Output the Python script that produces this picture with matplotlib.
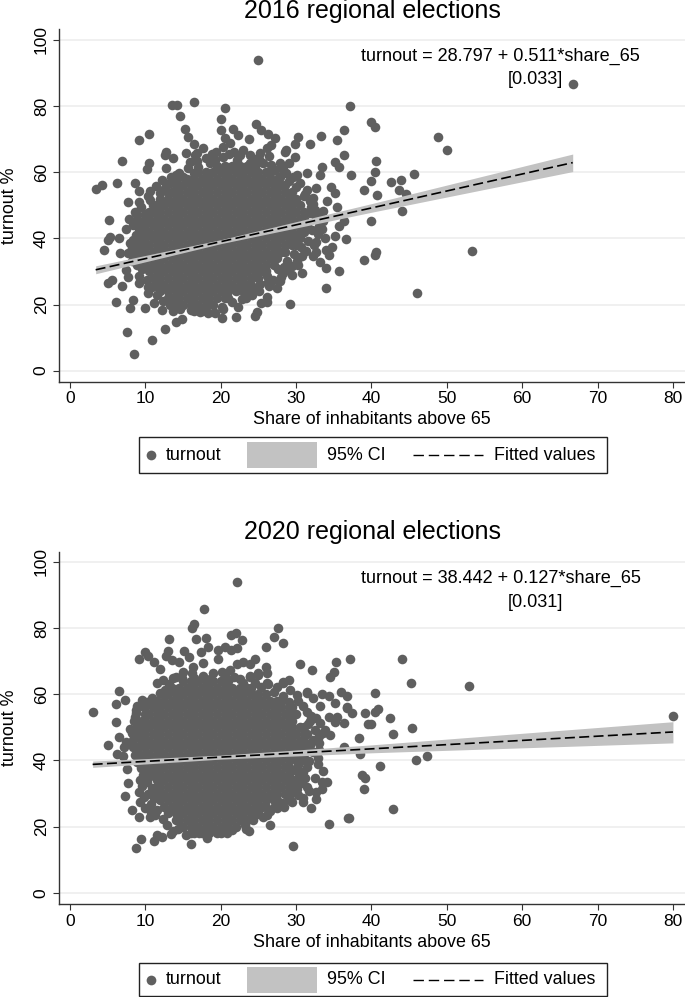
import matplotlib
matplotlib.use("Agg")
import matplotlib.pyplot as plt
from matplotlib.lines import Line2D
from matplotlib.patches import Rectangle

plt.rcParams['font.family'] = ['Liberation Sans', 'DejaVu Sans']

# ---- 2016: points (edge of the cloud and outliers)
edge_2016 = [
(25.0,93.8),(13.5,80.3),(14.2,80.3),(16.4,81.1),(20.6,79.3),(20.0,76.2),(14.6,77.1),(15.2,73.2),(15.6,70.7),
(20.0,72.8),(21.6,73.0),(22.3,71.3),(24.7,74.6),(25.4,72.8),(26.3,71.6),(27.2,70.3),(23.8,70.0),(26.7,68.2),
(20.5,70.3),(21.2,68.8),(10.5,71.5),(9.1,69.8),(6.9,63.4),(10.5,62.9),(10.2,60.9),(12.7,66.2),(12.6,65.2),
(13.7,64.2),(12.8,61.2),(14.1,59.2),(15.4,65.7),(16.4,68.5),(17.7,67.3),(16.6,65.2),(19.4,66.2),(3.4,54.9),
(4.3,56.1),(6.2,56.6),(8.6,56.8),(9.2,54.3),(7.7,50.9),(9.1,51.1),(10.6,51.6),(12.8,56.5),(8.6,48.1),(5.2,45.6),
(7.8,45.9),(7.4,42.7),(8.4,44.0),(5.3,40.5),(5.1,39.5),(6.5,40.0),(8.0,38.5),(4.5,36.5),(6.6,35.7),(7.7,35.5),
(7.4,30.4),(7.7,28.2),(5.6,27.4),(5.0,26.4),(6.9,25.7),(6.1,20.7),(8.0,18.9),(8.4,21.4),(9.9,18.9),(7.6,11.8),
(10.9,9.3),(8.5,4.9),(12.6,12.6),(14.0,14.6),(14.8,15.6),(20.2,16.0),(22.0,16.1),(24.6,16.5),(24.8,17.8),
(18.3,17.3),(19.2,17.3),(20.1,19.4),(12.2,18.3),(29.2,20.2),(25.3,20.6),(26.2,20.9),(26.1,22.4),(24.1,22.9),
(27.4,25.1),(33.9,25.1),(26.3,26.9),(28.0,28.2),(29.4,28.9),(30.8,29.4),(35.7,30.1),(34.0,30.9),(33.2,33.0),
(34.4,35.0),(34.7,37.3),(36.6,39.8),(35.1,40.8),(32.7,39.0),(32.7,36.0),(30.1,33.3),(34.0,36.5),(35.7,43.8),
(36.3,45.4),(35.4,49.6),(34.1,51.3),(32.3,52.1),(32.0,49.6),(33.6,48.4),(35.1,53.6),(34.6,55.4),(32.7,55.1),
(33.2,59.2),(33.4,61.5),(31.4,59.7),(30.1,59.2),(28.3,60.7),(37.3,59.2),(35.7,61.7),(35.2,63.0),(36.3,65.2),
(29.9,64.7),(29.1,62.7),(27.8,62.9),(28.7,66.7),(28.5,66.0),(29.8,68.5),(30.2,70.6),(31.8,68.5),(33.3,71.1),
(35.4,69.6),(36.3,72.8),(37.2,80.0),(40.0,75.1),(40.5,73.6),(48.8,70.7),(50.0,66.7),(40.6,63.3),(40.5,60.0),
(45.6,59.6),(40.0,57.2),(39.0,54.7),(42.6,56.9),(43.9,57.5),(43.7,54.6),(44.6,53.4),(40.7,53.2),(44.1,48.3),
(40.0,45.4),(40.6,36.0),(40.5,35.0),(39.0,33.5),(53.4,36.3),(46.1,23.4),(66.7,86.7),
(16.8,65.7),(15.9,63.2),(17.0,61.7),(18.1,64.2),(18.6,62.7),(20.3,67.7),(21.7,66.2),(23.0,66.7),(23.9,65.2),
(25.2,65.7),(26.1,67.2),(25.6,62.7),(20.3,64.7),(22.1,63.7),(23.9,62.7),(26.5,59.7),(27.9,58.7),(28.7,59.7),
(29.6,58.7),(30.5,56.7),(31.4,54.6),(28.3,61.7),(11.9,53.6),(12.4,54.6),(13.3,56.7),(14.1,57.7),(15.0,58.7),
(16.4,59.7),(10.3,52.8),(9.4,49.6),(9.9,47.5),(8.9,45.3),(9.2,42.9),(8.7,41.1),(9.4,39.6),(8.2,37.2),(8.7,34.6),
(8.9,32.1),(9.6,30.6),(9.2,28.7),(10.2,27.3),(10.9,25.4),(10.3,23.6),(11.6,22.8),(12.3,21.2),(11.1,20.5),
(13.2,19.8),(14.6,18.6),(13.7,17.9),(16.0,18.2),(17.2,17.7),(31.2,53.4),(32.2,50.5),(31.8,47.8),(32.6,46.1),
(33.0,43.7),(32.1,42.4),(32.9,41.2),(31.6,39.2),(30.6,37.4),(31.3,36.3),(29.7,35.2),(28.8,33.2),(29.4,31.7),
(27.6,30.8),(28.3,29.6),(26.1,28.6),(26.9,27.4),(25.2,26.3),(24.6,24.7),(23.8,23.4),(22.8,21.6),(21.5,20.7),
(20.3,18.8),(22.3,19.2),
(14.5,59.9),(13.4,58.6),(12.2,57.8),(11.4,55.9),(10.6,54.4),(15.6,61.3),(16.8,63.4),(18.9,65.6),(19.3,63.8),
(21.1,65.4),(22.6,65.1),(24.6,64.1),(25.1,63.9),(26.7,62.1),(27.2,60.8),(26.4,64.8),(27.6,56.9),(29.1,57.2),
(30.0,55.4),(31.0,52.9),(31.9,51.4),(32.5,48.6),(33.1,47.2),(33.6,45.4),(33.4,42.9),(33.8,40.2),(32.4,37.9),
(32.2,34.8),(30.8,34.6),(30.2,32.1),(29.1,30.4),(27.8,27.1),(28.4,31.4),(26.4,25.6),(25.1,24.1),(23.3,21.9),
(9.8,44.8),(8.9,47.1),(9.2,38.2),(8.4,39.5),(8.1,35.6),(8.2,33.3),(9.1,26.4),(10.4,25.2),
]
# ---- 2016: the solid part of the cloud, estimated row by row (turnout level, shares)
core_y_2016 = [62,60,58,56,54,52,50,48,46,44,42,40,38,36,34,32,30,28,26,24,22,20,18]
core_x_2016 = [
[19.5,20.5,21.5,22.5,23.5,24.5],
[17,18,19,20,21,22,23,24,25,26],
[15.5,16.5,17.5,18.5,19.5,20.5,21.5,22.5,23.5,24.5,25.5,26.5,27.5],
[14,15,16,17,18,19,20,21,22,23,24,25,26,27,28,28.5],
[13,13.5,14.5,15.5,16.5,17.5,18.5,19.5,20.5,21.5,22.5,23.5,24.5,25.5,26.5,27.5,28.5,29.5],
[12,13,14,15,16,17,18,19,20,21,22,23,24,25,26,27,28,29,30],
[11,11.5,12.5,13.5,14.5,15.5,16.5,17.5,18.5,19.5,20.5,21.5,22.5,23.5,24.5,25.5,26.5,27.5,28.5,29.5,30.5],
[10.5,11,12,13,14,15,16,17,18,19,20,21,22,23,24,25,26,27,28,29,30,31],
[10,10.5,11.5,12.5,13.5,14.5,15.5,16.5,17.5,18.5,19.5,20.5,21.5,22.5,23.5,24.5,25.5,26.5,27.5,28.5,29.5,30.5,31],
[10,11,12,13,14,15,16,17,18,19,20,21,22,23,24,25,26,27,28,29,30,31,31.5],
[9.5,10.5,11.5,12.5,13.5,14.5,15.5,16.5,17.5,18.5,19.5,20.5,21.5,22.5,23.5,24.5,25.5,26.5,27.5,28.5,29.5,30.5,31],
[9.5,10,11,12,13,14,15,16,17,18,19,20,21,22,23,24,25,26,27,28,29,30,30.5],
[9,9.5,10.5,11.5,12.5,13.5,14.5,15.5,16.5,17.5,18.5,19.5,20.5,21.5,22.5,23.5,24.5,25.5,26.5,27.5,28.5,29.5,30],
[9,10,11,12,13,14,15,16,17,18,19,20,21,22,23,24,25,26,27,28,28.5],
[9.5,10.5,11.5,12.5,13.5,14.5,15.5,16.5,17.5,18.5,19.5,20.5,21.5,22.5,23.5,24.5,25.5,26.5,27.5],
[10,11,12,13,14,15,16,17,18,19,20,21,22,23,24,25,26,27],
[10.5,11.5,12.5,13.5,14.5,15.5,16.5,17.5,18.5,19.5,20.5,21.5,22.5,23.5,24.5,25.5,26],
[11,12,13,14,15,16,17,18,19,20,21,22,23,24,25],
[11.5,12.5,13.5,14.5,15.5,16.5,17.5,18.5,19.5,20.5,21.5,22.5,23.5,24],
[12,13,14,15,16,17,18,19,20,21,22,23],
[13,13.5,14.5,15.5,16.5,17.5,18.5,19.5,20.5,21],
[14,15,16,17,18,19],
[16.5,17.5,18],
]
fit_x_2016 = [3.4, 20, 40, 66.7]
fit_y_2016 = [30.5, 39.0, 49.2, 62.9]
ci_lo_2016 = [29.3, 38.4, 47.9, 60.2]
ci_hi_2016 = [31.7, 39.6, 50.5, 65.5]

# ---- 2020: points
edge_2020 = [
(22.2,94.0),(17.8,85.7),(16.4,81.2),(16.2,80.0),(13.1,76.7),(16.7,76.7),(18.1,76.9),(18.3,74.4),(17.4,72.9),
(21.4,77.8),(22.0,78.4),(22.8,76.4),(22.2,74.1),(21.4,73.4),(20.6,74.4),(19.6,73.4),(19.7,70.7),(27.6,79.9),
(27.1,77.4),(28.3,75.4),(26.0,74.4),(10.0,72.9),(10.3,71.6),(9.1,70.7),(11.1,69.6),(12.0,67.5),(13.0,73.1),
(12.8,71.6),(13.5,70.4),(14.4,69.9),(15.1,73.1),(15.8,71.2),(16.3,68.1),(17.6,69.4),(22.1,69.2),(23.0,69.9),
(23.9,69.2),(24.6,70.6),(26.0,68.1),(26.1,66.5),(25.0,66.3),(23.9,65.5),(30.5,69.1),(32.1,67.2),(35.3,69.6),
(37.2,70.7),(35.0,66.6),(34.5,65.3),(28.3,63.8),(29.0,64.3),(26.3,63.0),(11.6,63.3),(12.4,64.3),(14.0,65.3),
(15.0,66.6),(17.7,65.5),(6.5,60.9),(7.3,58.3),(6.1,57.2),(3.0,54.6),(6.1,51.5),(8.0,49.5),(6.5,47.2),(5.1,44.7),
(7.4,45.7),(7.1,44.2),(6.2,41.9),(7.0,41.3),(7.6,37.4),(7.7,33.3),(7.3,29.3),(8.2,25.0),(9.2,22.8),(9.3,27.3),
(9.2,30.5),(9.3,34.1),(9.4,37.6),(8.8,55.2),(8.6,53.2),(10.6,23.0),(9.4,16.1),(8.8,13.6),(11.1,15.6),(11.5,17.4),
(12.2,16.9),(13.4,17.9),(16.1,14.8),(18.2,16.4),(20.8,18.1),(23.4,19.2),(23.7,18.8),(26.5,20.4),(25.6,23.0),
(26.1,23.5),(29.6,14.1),(34.3,20.7),(37.0,22.7),(32.0,25.5),(32.7,28.2),(30.9,27.5),(30.9,28.5),(32.7,30.5),
(33.4,31.3),(34.1,33.4),(33.4,33.6),(32.5,34.6),(33.6,36.9),(31.4,32.1),(30.9,36.6),(29.2,28.0),(27.4,25.5),
(38.5,41.9),(36.3,44.0),(38.4,46.9),(39.1,54.2),(37.4,54.2),(36.7,56.0),(39.6,51.0),(36.3,51.2),(35.1,51.7),
(34.3,53.2),(36.7,59.6),(36.0,60.6),(35.1,57.5),(34.4,59.6),(33.4,60.1),(31.4,60.8),(33.2,56.3),(34.5,47.7),
(33.8,49.2),(35.4,53.2),(38.8,35.6),(39.2,34.7),(39.0,31.5),(44.0,70.8),(45.2,63.3),(52.9,62.5),(40.4,60.4),
(36.8,55.7),(40.5,54.5),(40.8,55.4),(42.5,52.7),(40.0,51.0),(45.4,49.9),(42.8,48.1),(45.9,40.0),(47.3,41.2),
(41.1,38.2),(42.8,25.4),(36.9,22.7),(80.0,53.3),
(12.6,61.3),(13.7,64.8),(16.4,64.8),(19.0,66.3),(20.1,66.8),(21.2,67.3),(21.7,65.3),(23.0,63.3),(23.9,65.3),
(25.0,65.8),(26.1,63.3),(27.4,62.3),(28.3,63.3),(30.1,59.8),(31.4,60.3),(32.3,58.8),(30.9,56.3),(29.2,61.3),
(10.6,57.3),(9.3,56.3),(10.2,57.8),(9.0,51.4),(8.7,49.6),(9.1,47.8),(8.4,46.3),(9.2,44.4),(8.9,42.8),(9.5,41.4),
(9.9,39.2),(10.1,37.1),(10.6,35.3),(10.2,33.4),(10.9,31.7),(10.3,29.9),(11.2,28.6),(10.7,26.8),(11.6,25.1),
(11.3,23.6),(12.4,22.4),(12.9,20.6),(14.3,19.4),(13.6,18.7),(15.4,17.6),(17.1,18.1),(31.6,50.9),(32.5,49.3),
(33.1,47.4),(32.2,46.1),(31.8,44.7),(31.2,43.3),(32.3,42.5),(32.9,40.7),(31.7,39.9),(30.3,38.7),(29.9,37.2),
(30.4,35.6),(29.9,34.2),(30.6,33.1),(30.1,31.5),(29.4,30.6),(28.9,28.9),(28.1,27.2),(27.2,26.3),(26.6,24.8),
(24.9,23.7),(24.3,21.9),(23.2,20.4),(21.5,19.0),(20.2,18.3),
(11.9,60.3),(10.9,58.9),(9.5,58.2),(13.1,63.1),(14.8,64.9),(16.2,66.4),(18.6,64.7),(20.6,65.4),(22.5,64.6),
(24.6,63.4),(25.3,62.3),(27.0,60.6),(28.3,59.4),(29.1,57.6),(30.3,58.1),(31.5,54.6),(32.6,52.7),(31.9,51.9),
(33.2,51.2),(32.0,53.4),(33.6,48.2),(33.1,45.4),(33.0,43.1),(32.9,38.9),(31.4,37.9),(31.2,34.6),(31.7,30.9),
(30.3,29.6),(29.4,27.3),(28.4,25.9),(8.9,56.4),(8.7,54.2),(8.5,51.9),(8.2,48.2),(8.4,44.1),(8.6,41.7),(8.9,39.4),
(9.7,35.7),(9.5,32.2),(9.8,28.9),(10.0,25.6),(10.8,24.3),
]
core_y_2020 = [64,62,60,58,56,54,52,50,48,46,44,42,40,38,36,34,32,30,28,26,24,22,20,18]
core_x_2020 = [
[15,16,17,18,19,20,21],
[13.5,14.5,15.5,16.5,17.5,18.5,19.5,20.5,21.5,22.5,23.5,24],
[12.5,13,14,15,16,17,18,19,20,21,22,23,24,25,26],
[11,11.5,12.5,13.5,14.5,15.5,16.5,17.5,18.5,19.5,20.5,21.5,22.5,23.5,24.5,25.5,26.5,27.5,28],
[10,11,12,13,14,15,16,17,18,19,20,21,22,23,24,25,26,27,28,29,29.5],
[10,10.5,11.5,12.5,13.5,14.5,15.5,16.5,17.5,18.5,19.5,20.5,21.5,22.5,23.5,24.5,25.5,26.5,27.5,28.5,29.5,30],
[9.5,10,11,12,13,14,15,16,17,18,19,20,21,22,23,24,25,26,27,28,29,29.5],
[9.5,10.5,11.5,12.5,13.5,14.5,15.5,16.5,17.5,18.5,19.5,20.5,21.5,22.5,23.5,24.5,25.5,26.5,27.5,28.5,29.5,30.5,31],
[9.5,10,11,12,13,14,15,16,17,18,19,20,21,22,23,24,25,26,27,28,29,30,31,31.5],
[9.5,10.5,11.5,12.5,13.5,14.5,15.5,16.5,17.5,18.5,19.5,20.5,21.5,22.5,23.5,24.5,25.5,26.5,27.5,28.5,29.5,30.5,31],
[10,11,12,13,14,15,16,17,18,19,20,21,22,23,24,25,26,27,28,29,30,30.5],
[10,10.5,11.5,12.5,13.5,14.5,15.5,16.5,17.5,18.5,19.5,20.5,21.5,22.5,23.5,24.5,25.5,26.5,27.5,28.5,29.5,30.5,31],
[10.5,11,12,13,14,15,16,17,18,19,20,21,22,23,24,25,26,27,28,29,30,31],
[11,11.5,12.5,13.5,14.5,15.5,16.5,17.5,18.5,19.5,20.5,21.5,22.5,23.5,24.5,25.5,26.5,27.5,28.5,29],
[11,12,13,14,15,16,17,18,19,20,21,22,23,24,25,26,27,28,29],
[11.5,12.5,13.5,14.5,15.5,16.5,17.5,18.5,19.5,20.5,21.5,22.5,23.5,24.5,25.5,26.5,27.5,28.5,29.5],
[11.5,12,13,14,15,16,17,18,19,20,21,22,23,24,25,26,27,28,29,29.5],
[11.5,12.5,13.5,14.5,15.5,16.5,17.5,18.5,19.5,20.5,21.5,22.5,23.5,24.5,25.5,26.5,27.5,28.5],
[12,13,14,15,16,17,18,19,20,21,22,23,24,25,26,27,27.5],
[12.5,13.5,14.5,15.5,16.5,17.5,18.5,19.5,20.5,21.5,22.5,23.5,24.5,25.5,26],
[13,14,15,16,17,18,19,20,21,22,23,24,25],
[14,14.5,15.5,16.5,17.5,18.5,19.5,20.5,21.5,22.5,23.5],
[15,16,17,18,19,20,21,22],
[16,16.5,17.5,18.5,19.5,20],
]
fit_x_2020 = [3.0, 20, 40, 80]
fit_y_2020 = [38.8, 41.0, 43.5, 48.6]
ci_lo_2020 = [37.9, 40.4, 42.3, 45.3]
ci_hi_2020 = [39.8, 41.6, 44.7, 51.7]

xticks = [0, 10, 20, 30, 40, 50, 60, 70, 80]
yticks = [0, 20, 40, 60, 80, 100]
DOT = '#5f5f5f'
BAND = '#c2c2c2'
W, H = 685, 997

fig = plt.figure(figsize=(W / 100, H / 100), dpi=100)


def fx(p):
    return p / W


def fy(p):
    return 1 - p / H


def panel(top, bottom, ymin, ymax, title, title_y, xlabel_y, legend_top, legend_bot,
          edge, core_y, core_x, fit_x, fit_y, lo, hi, eq, se, eq_y, se_y):
    ax = fig.add_axes([fx(58.5), fy(bottom), (685 - 58.5) / W, (bottom - top) / H])
    xs = [p[0] for p in edge]
    ys = [p[1] for p in edge]
    for yy, row in zip(core_y, core_x):
        xs += row
        ys += [yy] * len(row)
    ax.scatter(xs, ys, s=48, color=DOT, linewidths=0, zorder=2)
    ax.fill_between(fit_x, lo, hi, color=BAND, linewidth=0, zorder=3)
    ax.plot(fit_x, fit_y, color='black', lw=1.2, dashes=(6.0, 2.6), zorder=4)
    ax.set_xlim(-1.53, 81.6)
    ax.set_ylim(ymin, ymax)
    ax.set_xticks(xticks)
    ax.set_yticks(yticks)
    ax.grid(axis='y', color='#ececec', lw=1.1, zorder=1)
    ax.set_axisbelow(True)
    for s in ('top', 'right'):
        ax.spines[s].set_visible(False)
    for s in ('left', 'bottom'):
        ax.spines[s].set_color('#333333')
        ax.spines[s].set_linewidth(1.0)
    ax.tick_params(length=4.5, width=0.8, color='#333333', labelsize=12.5, pad=2.5)
    for lab in ax.get_yticklabels():
        lab.set_rotation(90)
        lab.set_va('center')
    ax.text(38.6, eq_y, eq, fontsize=13.1, ha='left', va='center', zorder=5)
    ax.text(58.1, se_y, se, fontsize=13.1, ha='left', va='center', zorder=5)
    fig.text(fx(372), fy(title_y), title, fontsize=18, ha='center', va='center')
    fig.text(fx(372), fy(xlabel_y), 'Share of inhabitants above 65', fontsize=12.9, ha='center', va='center')
    fig.text(fx(10), fy((top + bottom) / 2), 'turnout %', fontsize=12.9, rotation=90, ha='center', va='center')
    # legend box
    ly = (legend_top + legend_bot) / 2
    fig.add_artist(Rectangle((fx(139), fy(legend_bot)), 468 / W, (legend_bot - legend_top) / H,
                             transform=fig.transFigure, fc='white', ec='#222222', lw=1.0))
    fig.add_artist(Line2D([fx(151)], [fy(ly)], marker='o', ms=7, color=DOT, mew=0, ls='none',
                          transform=fig.transFigure))
    fig.text(fx(166), fy(ly), 'turnout', fontsize=12.9, ha='left', va='center')
    fig.add_artist(Rectangle((fx(247), fy(ly + 13)), 70 / W, 26 / H, transform=fig.transFigure,
                             fc=BAND, ec='none'))
    fig.text(fx(327), fy(ly), '95% CI', fontsize=12.9, ha='left', va='center')
    fig.add_artist(Line2D([fx(413), fx(483)], [fy(ly), fy(ly)], color='black', lw=1.0, dashes=(7.5, 3.5),
                          transform=fig.transFigure))
    fig.text(fx(494), fy(ly), 'Fitted values', fontsize=12.9, ha='left', va='center')


panel(29, 381.7, -3.33, 103.3, '2016 regional elections', 11, 419, 437, 473,
      edge_2016, core_y_2016, core_x_2016, fit_x_2016, fit_y_2016, ci_lo_2016, ci_hi_2016,
      'turnout = 28.797 + 0.511*share_65', '[0.033]', 94.9, 87.9)
panel(552, 904, -3.4, 103.0, '2020 regional elections', 532, 942, 963, 996,
      edge_2020, core_y_2020, core_x_2020, fit_x_2020, fit_y_2020, ci_lo_2020, ci_hi_2020,
      'turnout = 38.442 + 0.127*share_65', '[0.031]', 94.9, 87.6)

fig.savefig('out.png', dpi=100)
